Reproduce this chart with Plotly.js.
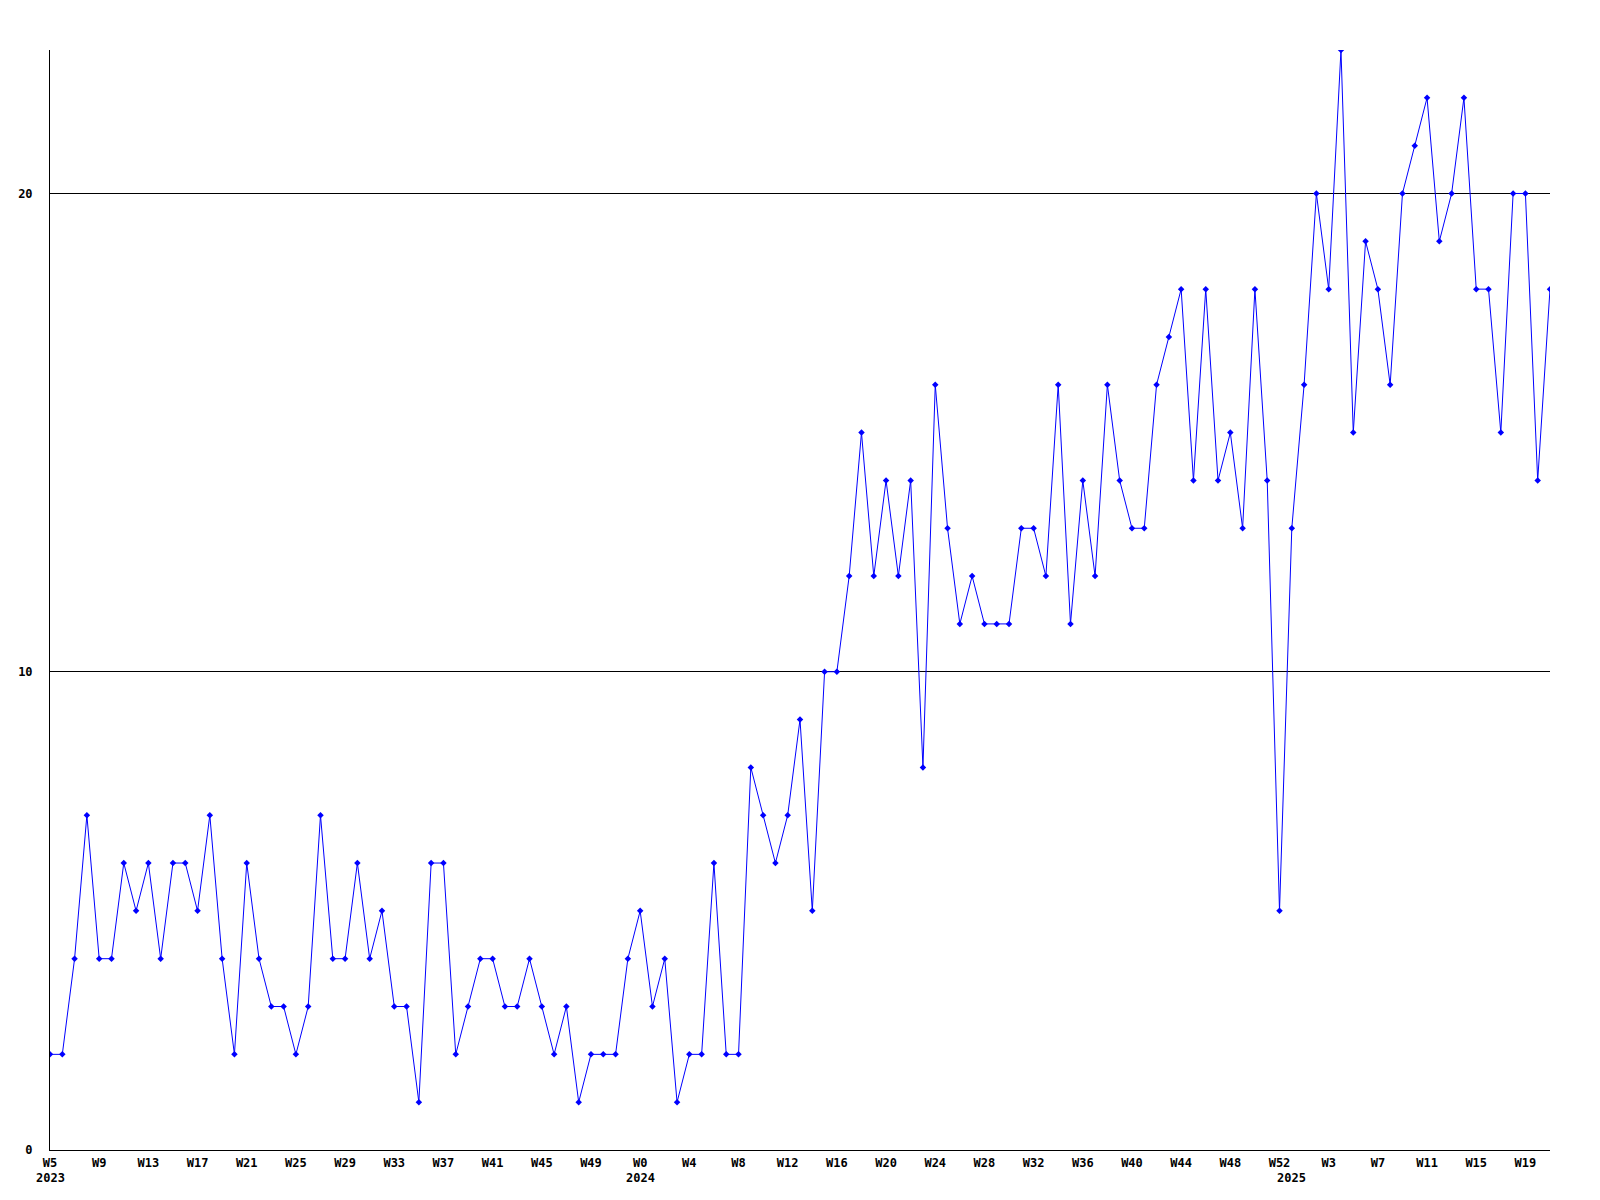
<!DOCTYPE html>
<html>
<head>
<meta charset="utf-8">
<script src="https://cdn.plot.ly/plotly-3.0.1.min.js"></script>
<style>
  html, body { margin: 0; padding: 0; background: #ffffff; }
  #chart { width: 1600px; height: 1200px; }
</style>
</head>
<body>
<div id="chart"></div>
<script>
// Week categories: 2023 W5..W52, 2024 W0..W52, 2025 W0..W21
const years = [2023, 2024, 2025];
const firstWeek = [5, 0, 0];
const lastWeek = [52, 52, 21];

const values2023 = [2,2,4,7,4,4,6,5,6,4,6,6,5,7,4,2,6,4,3,3,2,3,7,4,4,6,4,5,3,3,1,6,
                    6,2,3,4,4,3,3,4,3,2,3,1,2,2,2,4];
const values2024 = [5,3,4,1,2,2,6,2,2,8,7,6,7,
                    9,5,10,10,12,15,12,14,12,14,8,16,13,11,12,11,11,11,13,13,12,16,11,14,12,16,14,13,13,
                    16,17,18,14,18,14,15,13,18,14,5];
const values2025 = [13,16,20,18,23,15,19,18,16,20,21,22,19,20,22,18,18,15,20,20,14,18];

const yTickVals = [0, 10, 20];
const labelEvery = 4;

// Build category labels
const weekLabels = [];
const yearStartIndex = [];
for (let i = 0; i < years.length; i++) {
  yearStartIndex.push(weekLabels.length);
  for (let w = firstWeek[i]; w <= lastWeek[i]; w++) weekLabels.push('W' + w);
}
const values = values2023.concat(values2024, values2025);
const xIdx = values.map((_, i) => i);

const tickvals = [], ticktext = [];
for (let i = 0; i < weekLabels.length; i += labelEvery) {
  tickvals.push(i);
  ticktext.push(weekLabels[i]);
}

const tickFont = { family: 'DejaVu Sans Mono, monospace', size: 12, color: '#000000', weight: 'bold' };

const annotations = years.map((yr, i) => ({
  x: yearStartIndex[i], xref: 'x',
  y: 0, yref: 'paper',
  yshift: -28, yanchor: 'middle', xanchor: 'center',
  text: String(yr), showarrow: false,
  font: tickFont
}));

const trace = {
  x: xIdx,
  y: values,
  text: weekLabels,
  type: 'scatter',
  mode: 'lines+markers',
  line: { color: '#0000ff', width: 1 },
  marker: { color: '#0000ff', symbol: 'diamond', size: 5 },
  hoverinfo: 'text+y'
};

const layout = {
  width: 1600, height: 1200,
  margin: { l: 50, r: 50, t: 50, b: 50, pad: 0 },
  paper_bgcolor: '#ffffff', plot_bgcolor: '#ffffff',
  showlegend: false,
  xaxis: {
    range: [0, weekLabels.length - 1],
    tickmode: 'array', tickvals: tickvals, ticktext: ticktext,
    showgrid: false, zeroline: false,
    showline: true, linecolor: '#000000', linewidth: 1,
    ticks: '', tickfont: tickFont, ticklabelstandoff: 2,
    fixedrange: true
  },
  yaxis: {
    range: [0, 23],
    tickmode: 'array', tickvals: yTickVals,
    showgrid: true, gridcolor: '#000000', gridwidth: 1,
    zeroline: false,
    showline: true, linecolor: '#000000', linewidth: 1,
    ticks: '', tickfont: tickFont, ticklabelstandoff: 14,
    fixedrange: true
  },
  annotations: annotations
};

Plotly.newPlot('chart', [trace], layout, { displayModeBar: false, staticPlot: true });
</script>
</body>
</html>
